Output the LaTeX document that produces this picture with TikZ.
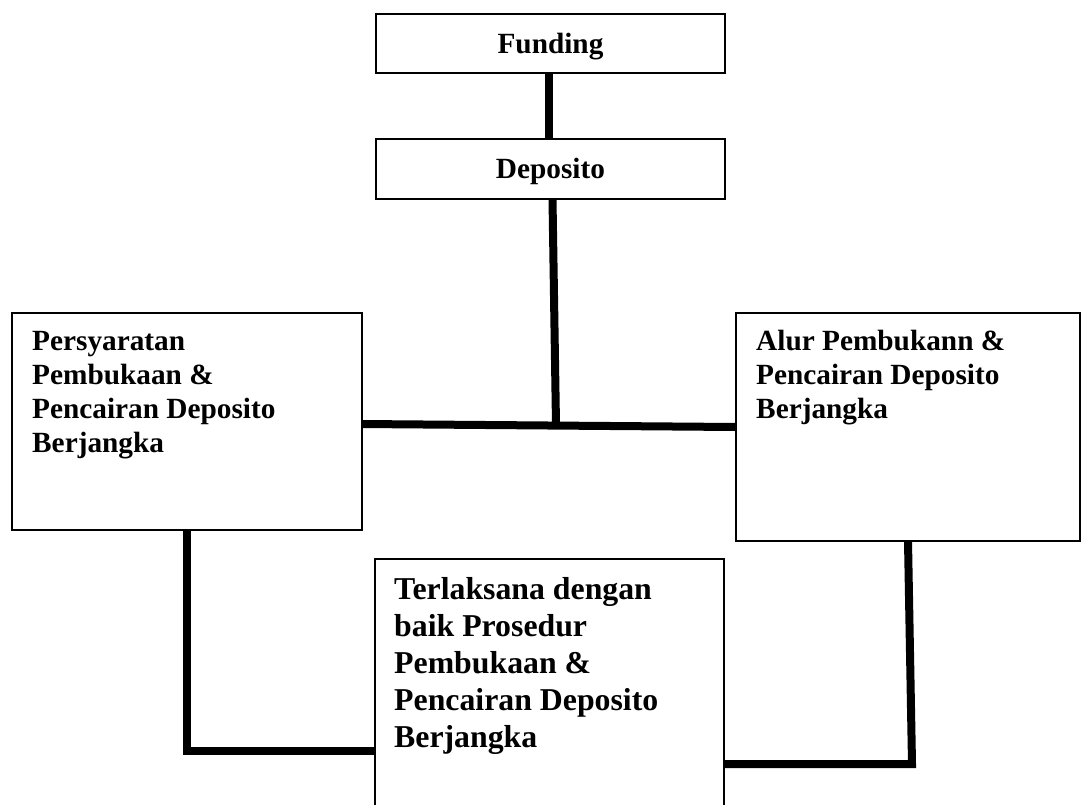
\documentclass[tikz,border=0pt]{standalone}
\usepackage{fontspec}
\setmainfont{Liberation Serif}
\begin{document}
\begin{tikzpicture}[x=1pt,y=-1pt,
  box/.style={draw=black, line width=1.1pt, inner sep=0pt, outer sep=0pt, fill=white},
  conn/.style={draw=black, line width=8pt, line join=miter},
  smalltxt/.style={font=\fontsize{29.3}{34}\selectfont\bfseries, align=left, inner sep=0pt, anchor=north west},
  bigtxt/.style={font=\fontsize{31.8}{37}\selectfont\bfseries, align=left, inner sep=0pt, anchor=north west},
  titletxt/.style={font=\fontsize{29.3}{34}\selectfont\bfseries, text height=19.5pt, text depth=0.5pt}]
\useasboundingbox (0,0) rectangle (1081,804);
\fill[white] (0,0) rectangle (1081,804);

% boxes
\node[box, titletxt, minimum width=349pt, minimum height=59pt] (funding) at (550.5,43.5) {Funding};
\node[box, titletxt, minimum width=349pt, minimum height=60pt] (deposito) at (550.5,169) {Deposito};
\node[box, minimum width=350pt, minimum height=217pt] (left) at (187,421.5) {};
\node[box, minimum width=344pt, minimum height=228pt] (right) at (908,427) {};
\node[box, minimum width=349pt, minimum height=300pt] (bottom) at (549.5,709) {};

% texts
\node[smalltxt] (lefttext) at (32,328) {\rule{0pt}{22pt}Persyaratan\\Pembukaan \&\\Pencairan Deposito\\Berjangka};
\node[smalltxt] (righttext) at (756,328) {\rule{0pt}{22pt}Alur Pembukann \&\\Pencairan Deposito\\Berjangka};
\node[bigtxt] (bottomtext) at (394,575) {\rule{0pt}{24pt}Terlaksana dengan\\baik Prosedur\\Pembukaan \&\\Pencairan Deposito\\Berjangka};

% connector points
\coordinate (j) at (556,425);
\coordinate (bl) at (375,751);
\coordinate (rc) at (912,764);
\coordinate (br) at (724,764);

% connectors
\draw[conn] ([xshift=-2pt]funding.south) -- ([xshift=-2pt]deposito.north);
\draw[conn] ([xshift=2pt]deposito.south) -- (j);
\draw[conn] ([yshift=-2.5pt]left.east) -- (right.west);
\draw[conn] (left.south) |- (bl);
\draw[conn] (right.south) -- (rc) -- (br);
\end{tikzpicture}
\end{document}
